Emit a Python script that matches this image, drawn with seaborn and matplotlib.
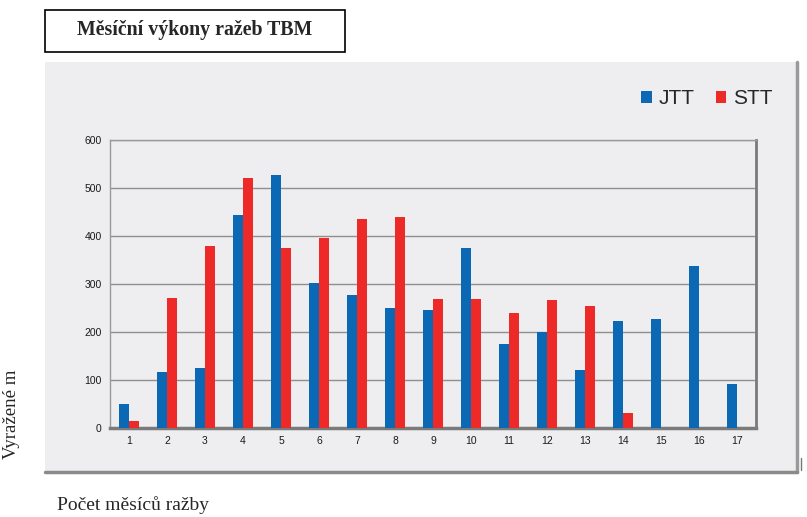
import pandas as pd
import numpy as np
import matplotlib
matplotlib.use('Agg')
import matplotlib.pyplot as plt
from matplotlib.patches import Rectangle
from matplotlib.lines import Line2D
import seaborn as sns

# data
months = list(range(1, 18))
jtt = [50, 116, 124, 443, 528, 302, 277, 251, 246, 375, 174, 199, 121, 223, 228, 337, 92]
stt = [15, 270, 379, 521, 374, 396, 436, 440, 269, 269, 239, 266, 255, 31, 0, 0, 0]
series_names = ['JTT', 'STT']
y_ticks = [0, 100, 200, 300, 400, 500, 600]

df = pd.DataFrame({
    'month': months * 2,
    'value': jtt + stt,
    'series': [series_names[0]] * len(months) + [series_names[1]] * len(months),
})

blue = '#0a68b4'
red = '#ee2a28'
panel_grey = '#eeeef0'

sns.set_style('white')

fig = plt.figure(figsize=(8.07, 5.17), dpi=100)
fig.patch.set_facecolor('white')

# grey panel behind the chart
fig.patches.append(Rectangle((45 / 807, 1 - 472 / 517), 752 / 807, 410 / 517,
                             transform=fig.transFigure, facecolor=panel_grey,
                             edgecolor='none', zorder=-10))
# shadowed right / bottom edges of the panel
fig.lines.append(Line2D([797 / 807, 797 / 807], [1 - 472 / 517, 1 - 62 / 517],
                        transform=fig.transFigure, color='#9a9a9a', lw=2.5, zorder=-9))
fig.lines.append(Line2D([45 / 807, 797 / 807], [1 - 472 / 517, 1 - 472 / 517],
                        transform=fig.transFigure, color='#8a8a8a', lw=2.5, zorder=-9))
fig.lines.append(Line2D([801 / 807, 801 / 807], [1 - 470 / 517, 1 - 458 / 517],
                        transform=fig.transFigure, color='#777777', lw=1, zorder=-9))

# title box
fig.patches.append(Rectangle((45 / 807, 1 - 52 / 517), 300 / 807, 42 / 517,
                             transform=fig.transFigure, facecolor='white',
                             edgecolor='black', lw=1.2, zorder=-9))
fig.text(195 / 807, 1 - 30 / 517, 'Měsíční výkony ražeb TBM', ha='center', va='center',
         fontsize=14.3, fontweight='bold', family='Liberation Serif')

ax = fig.add_axes([110 / 807, 1 - 428 / 517, 646 / 807, 288 / 517])
ax.set_facecolor(panel_grey)

sns.barplot(data=df, x='month', y='value', hue='series', palette=[blue, red],
            width=0.55, saturation=1, linewidth=0, ax=ax, zorder=3)

ax.set_ylim(0, 600)
ax.set_yticks(y_ticks)
ax.set_xlim(-0.5, len(months) - 0.5)
ax.yaxis.grid(True, color='#8e8e8e', lw=1)
ax.set_axisbelow(True)
ax.tick_params(axis='both', length=0, labelsize=7.5, pad=6, labelcolor='#1a1a1a')
for lab in ax.get_xticklabels() + ax.get_yticklabels():
    lab.set_family('Liberation Sans')

for side in ['left', 'top']:
    ax.spines[side].set_color('#9a9a9a')
    ax.spines[side].set_linewidth(1)
ax.spines['right'].set_color('#7a7a7a')
ax.spines['right'].set_linewidth(2)
ax.spines['bottom'].set_color('#7a7a7a')
ax.spines['bottom'].set_linewidth(2.5)

ax.set_xlabel('')
ax.set_ylabel('')

ax.legend(loc='center', bbox_to_anchor=(707 / 807, 1 - 99 / 517),
          bbox_transform=fig.transFigure, ncol=2, frameon=False,
          prop={'family': 'Liberation Sans', 'size': 15},
          handlelength=0.5, handleheight=0.5, handletextpad=0.35, columnspacing=1.0)

fig.text(12 / 807, 1 - 414 / 517, 'Vyražené m', rotation=90, ha='center', va='center',
         fontsize=13.5, family='Liberation Serif')
fig.text(57 / 807, 1 - 505 / 517, 'Počet měsíců ražby', ha='left', va='center',
         fontsize=14, family='Liberation Serif')

fig.savefig('out.png', dpi=100)
